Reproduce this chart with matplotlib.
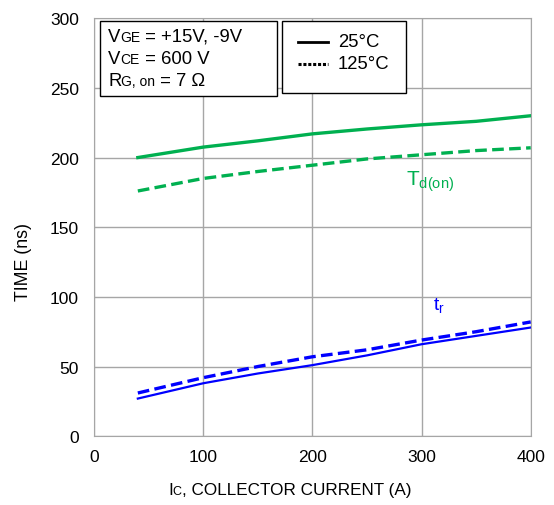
import matplotlib
matplotlib.use("Agg")
import matplotlib.pyplot as plt
from matplotlib.lines import Line2D
from matplotlib.patches import Rectangle

plt.rcParams['font.family'] = ['Liberation Sans', 'DejaVu Sans']

ic = [40, 100, 150, 200, 250, 300, 350, 400]
td_on_25 = [200, 207.5, 212, 217, 220.5, 223.5, 226, 230]
td_on_125 = [176, 185, 190, 194.5, 199, 202, 205, 207]
tr_25 = [27, 38, 45, 51, 58, 66, 72, 78]
tr_125 = [31, 42, 50, 57, 62, 69, 75, 82]

green = '#00B050'
blue = '#0000FF'
grid_c = '#A6A6A6'

fig = plt.figure(figsize=(5.54, 5.06), dpi=100)
ax = fig.add_axes([0.170, 0.136, 0.788, 0.826])

ax.plot(ic, td_on_25, color=green, lw=2.4)
ax.plot(ic, td_on_125, color=green, lw=2.4, ls=(0, (3.5, 1.6)))
ax.plot(ic, tr_25, color=blue, lw=1.6)
ax.plot(ic, tr_125, color=blue, lw=2.4, ls=(0, (3.5, 1.6)))

ax.set_xlim(0, 400)
ax.set_ylim(0, 300)
ax.set_xticks([0, 100, 200, 300, 400])
ax.set_yticks([0, 50, 100, 150, 200, 250, 300])
ax.grid(True, color=grid_c, lw=1)
for s in ax.spines.values():
    s.set_color(grid_c)
ax.tick_params(length=0, labelsize=12.5)
ax.tick_params(axis='y', pad=11)
ax.tick_params(axis='x', pad=9)

fig.text(23 / 554, 1 - 262 / 506, 'TIME (ns)', rotation=90, ha='center', va='center', fontsize=12.8)

ax.text(286, 181, r'T$_{\mathregular{d(on)}}$', color=green, fontsize=15)
ax.text(310, 91, r't$_{\mathregular{r}}$', color=blue, fontsize=14)

renderer = fig.canvas.get_renderer()


def mixed(x, y, pieces, **kw):
    # draw pieces of text on one baseline, in figure pixels
    cx = x
    for txt, size in pieces:
        t = fig.text(cx / 554, 1 - y / 506, txt, fontsize=size, va='baseline', ha='left', **kw)
        cx += t.get_window_extent(renderer).width


# condition box
fig.patches.append(Rectangle((100 / 554, 1 - 97 / 506), 177 / 554, 75 / 506,
                             transform=fig.transFigure, fill=True, fc='white', ec='black', lw=1))
mixed(108, 42, [('V', 13.3), ('GE', 10), (' = +15V, -9V', 13.3)])
mixed(108, 64, [('V', 13.3), ('CE', 10), (' = 600 V', 13.3)])
mixed(108, 86, [('R', 13.3), ('G, on', 10), (' = 7 \u03a9', 13.3)])

# legend box
fig.patches.append(Rectangle((282 / 554, 1 - 94 / 506), 124 / 554, 72 / 506,
                             transform=fig.transFigure, fill=True, fc='white', ec='black', lw=1))
fig.lines.append(Line2D([298 / 554, 328 / 554], [1 - 43 / 506] * 2, transform=fig.transFigure,
                        color='black', lw=2))
fig.lines.append(Line2D([298 / 554, 328 / 554], [1 - 65 / 506] * 2, transform=fig.transFigure,
                        color='black', lw=2.2, ls=(0, (1, 0.6))))
mixed(338, 47, [('25\u00b0C', 13.3)])
mixed(338, 69, [('125\u00b0C', 13.3)])

# x label with small-caps subscript
mixed(168, 495, [('I', 12.3), ('C', 9), (', COLLECTOR CURRENT (A)', 12.3)])

fig.savefig('out.png', dpi=100)
